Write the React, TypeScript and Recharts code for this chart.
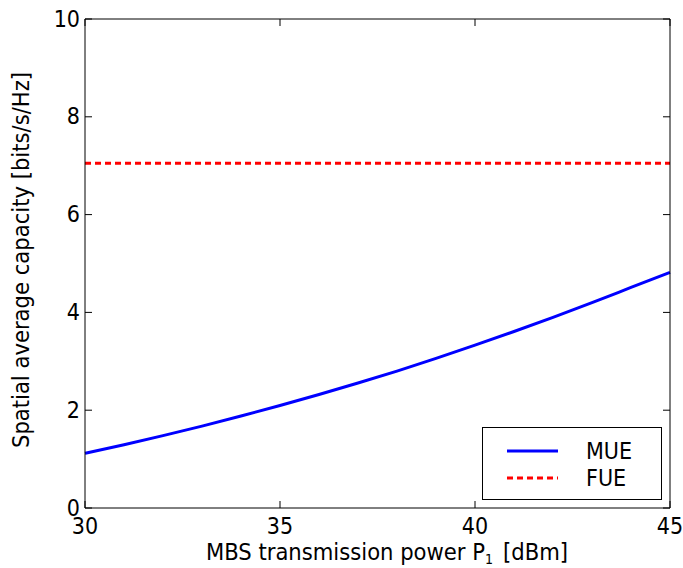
import React from 'react';
import { LineChart, Line, XAxis, YAxis } from 'recharts';

// MBS transmission power P1 [dBm]
const power = [30, 31, 32, 33, 34, 35, 36, 37, 38, 39, 40, 41, 42, 43, 44, 45];
// spatial average capacity [bits/s/Hz]
const mue = [1.12, 1.295, 1.48, 1.675, 1.88, 2.095, 2.32, 2.555, 2.8, 3.06, 3.33, 3.61, 3.9, 4.2, 4.51, 4.82];
const fue = [7.05, 7.05, 7.05, 7.05, 7.05, 7.05, 7.05, 7.05, 7.05, 7.05, 7.05, 7.05, 7.05, 7.05, 7.05, 7.05];

const xTicks = [30, 35, 40, 45];
const yTicks = [0, 2, 4, 6, 8, 10];

const data = power.map((p, i) => ({ p, mue: mue[i], fue: fue[i] }));

const FONT = '"DejaVu Sans Condensed", "Open Sans", sans-serif';
const TICK_LEN = 7;

const BottomTick = (props: any) => {
  const { x, y, payload } = props;
  return (
    <g>
      <line x1={x} x2={x} y1={y} y2={y - TICK_LEN} stroke="#000" />
      <text x={x} y={y + 26} textAnchor="middle" fontSize={23} fontFamily={FONT} fill="#000">
        {payload.value}
      </text>
    </g>
  );
};

const TopTick = (props: any) => {
  const { x, y } = props;
  return <line x1={x} x2={x} y1={y} y2={y + TICK_LEN} stroke="#000" />;
};

const LeftTick = (props: any) => {
  const { x, y, payload } = props;
  return (
    <g>
      <line x1={x} x2={x + TICK_LEN} y1={y} y2={y} stroke="#000" />
      <text x={x - 5} y={y + 7.5} textAnchor="end" fontSize={23} fontFamily={FONT} fill="#000">
        {payload.value}
      </text>
    </g>
  );
};

const RightTick = (props: any) => {
  const { x, y } = props;
  return <line x1={x} x2={x - TICK_LEN} y1={y} y2={y} stroke="#000" />;
};

const XLabel = () => (
  <text x={387} y={560} textAnchor="middle" fontSize={23.5} fontFamily={FONT} fill="#000">
    MBS transmission power P
    <tspan fontSize={14} dy={4}>1</tspan>
    <tspan dy={-4} dx={10}>[dBm]</tspan>
  </text>
);

const YLabel = () => (
  <text
    x={29}
    y={260}
    transform="rotate(-90, 29, 260)"
    textAnchor="middle"
    fontSize={23.5}
    fontFamily={FONT}
    fill="#000"
  >
    Spatial average capacity [bits/s/Hz]
  </text>
);

export default function App() {
  return (
    <div style={{ position: 'absolute', left: 0, top: 0, width: 683, height: 568, background: '#fff' }}>
      <LineChart width={683} height={568} data={data} margin={{ top: 18, right: 12, bottom: 0, left: 0 }}>
        <XAxis
          dataKey="p"
          type="number"
          domain={[30, 45]}
          ticks={xTicks}
          height={60}
          tickSize={0}
          tickMargin={0}
          tickLine={false}
          axisLine={{ stroke: '#000' }}
          tick={<BottomTick />}
          label={XLabel}
        />
        <XAxis
          xAxisId="top"
          orientation="top"
          dataKey="p"
          type="number"
          domain={[30, 45]}
          ticks={xTicks}
          height={1}
          tickSize={0}
          tickMargin={0}
          tickLine={false}
          axisLine={{ stroke: '#000' }}
          tick={<TopTick />}
        />
        <YAxis
          type="number"
          domain={[0, 10]}
          ticks={yTicks}
          width={85}
          tickSize={0}
          tickMargin={0}
          tickLine={false}
          axisLine={{ stroke: '#000' }}
          tick={<LeftTick />}
          label={YLabel}
        />
        <YAxis
          yAxisId="right"
          orientation="right"
          type="number"
          domain={[0, 10]}
          ticks={yTicks}
          width={1}
          tickSize={0}
          tickMargin={0}
          tickLine={false}
          axisLine={{ stroke: '#000' }}
          tick={<RightTick />}
        />
        <Line
          dataKey="mue"
          name="MUE"
          stroke="#0000ff"
          strokeWidth={3}
          dot={false}
          type="monotone"
          isAnimationActive={false}
        />
        <Line
          dataKey="fue"
          name="FUE"
          xAxisId="top"
          yAxisId="right"
          stroke="#ff0000"
          strokeWidth={3}
          strokeDasharray="6 4"
          dot={false}
          type="linear"
          isAnimationActive={false}
        />
      </LineChart>
      {/* legend */}
      <div
        style={{
          position: 'absolute',
          left: 482,
          top: 427,
          width: 180,
          height: 73,
          border: '1px solid #000',
          background: '#fff',
          boxSizing: 'border-box',
        }}
      >
        <svg width={178} height={71} style={{ display: 'block' }}>
          <line x1={24} x2={75} y1={23} y2={23} stroke="#0000ff" strokeWidth={3} />
          <text x={103} y={31} fontSize={23} fontFamily={FONT}>MUE</text>
          <line x1={24} x2={75} y1={50} y2={50} stroke="#ff0000" strokeWidth={3} strokeDasharray="6 4" />
          <text x={103} y={58} fontSize={23} fontFamily={FONT}>FUE</text>
        </svg>
      </div>
    </div>
  );
}
